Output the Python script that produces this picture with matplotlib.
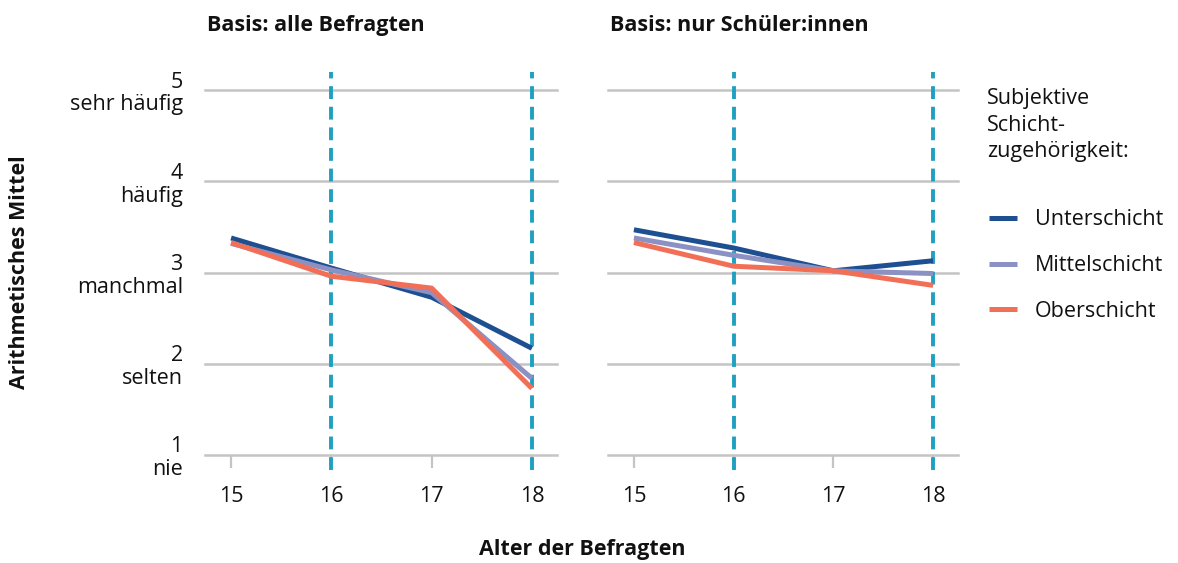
import numpy as np
import matplotlib
matplotlib.use("Agg")
import matplotlib.pyplot as plt

plt.rcParams['font.family'] = ['Open Sans', 'DejaVu Sans']

# Data
ages = [15, 16, 17, 18]
groups = ['Unterschicht', 'Mittelschicht', 'Oberschicht']
alle_unter = [3.38, 3.05, 2.73, 2.17]
alle_mittel = [3.32, 3.03, 2.78, 1.84]
alle_ober = [3.33, 2.96, 2.83, 1.73]
schueler_unter = [3.47, 3.27, 3.02, 3.13]
schueler_mittel = [3.38, 3.19, 3.02, 2.99]
schueler_ober = [3.33, 3.07, 3.02, 2.86]
y_ticks = [1, 2, 3, 4, 5]
y_labels = ['1\nnie', '2\nselten', '3\nmanchmal', '4\nhäufig', '5\nsehr häufig']
marked_ages = [16, 18]
titles = ['Basis: alle Befragten', 'Basis: nur Schüler:innen']

colors = ['#1d4f91', '#8b91c2', '#f26f57']
dash_color = '#1fa0c0'
grid_color = '#c4c4c4'
text_color = '#111111'
fs = 15.5

fig = plt.figure(figsize=(11.78, 5.63), dpi=100)
ax1 = fig.add_axes([205 / 1178, 1 - 455 / 563, 352 / 1178, 383 / 563])
ax2 = fig.add_axes([608 / 1178, 1 - 455 / 563, 350 / 1178, 383 / 563])

panels = [
    (ax1, [alle_unter, alle_mittel, alle_ober]),
    (ax2, [schueler_unter, schueler_mittel, schueler_ober]),
]

for i, (ax, series) in enumerate(panels):
    ax.set_xlim(14.74, 18.25)
    ax.set_ylim(1, 5.2)
    for y in y_ticks:
        ax.axhline(y, color=grid_color, lw=1.8, zorder=1, clip_on=False)
    for a in marked_ages:
        ax.axvline(a, ymin=-0.04, ymax=1, color=dash_color, lw=2.8,
                   dashes=(3.3, 2.0), zorder=2, clip_on=False)
    for vals, c, name in zip(series, colors, groups):
        ax.plot(ages, vals, color=c, lw=3.6, zorder=3, label=name,
                solid_capstyle='butt')
    for s in ax.spines.values():
        s.set_visible(False)
    ax.set_xticks(ages)
    ax.set_xticklabels([str(a) for a in ages], fontsize=fs)
    ax.tick_params(axis='x', direction='out', length=9, width=1.6,
                   color=grid_color, pad=13, labelcolor=text_color)
    ax.set_yticks(y_ticks)
    if i == 0:
        ax.set_yticklabels(y_labels, fontsize=fs, linespacing=1.1,
                           color=text_color)
        ax.tick_params(axis='y', length=0, pad=16)
    else:
        ax.tick_params(axis='y', length=0, labelleft=False)
    ax.text(0.005, 1.095, titles[i], transform=ax.transAxes, fontsize=fs,
            fontweight='bold', ha='left', va='bottom', color=text_color)

fig.text(20 / 1178, 1 - 272 / 563, 'Arithmetisches Mittel', rotation=90,
         fontsize=fs, fontweight='bold', ha='center', va='center',
         color=text_color)
fig.text(582 / 1178, 1 - 550 / 563, 'Alter der Befragten', fontsize=fs,
         fontweight='bold', ha='center', va='center', color=text_color)

# legend title drawn separately so the gap to the entries matches
fig.text(987 / 1178, 1 - 88 / 563, 'Subjektive\nSchicht-\nzugehörigkeit:',
         fontsize=fs, ha='left', va='top', linespacing=1.35, color=text_color)
leg = ax2.legend(loc='upper left', bbox_to_anchor=(970 / 1178, 1 - 190 / 563),
                 bbox_transform=fig.transFigure, frameon=False, fontsize=fs,
                 handlelength=1.3, handletextpad=0.8, labelspacing=1.15)
for t in leg.get_texts():
    t.set_color(text_color)

fig.savefig('out.png', dpi=100)
